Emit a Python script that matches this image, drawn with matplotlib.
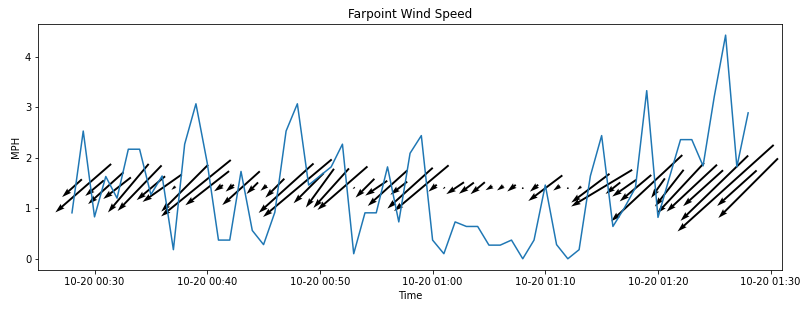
import numpy as np
import pandas as pd
import matplotlib
matplotlib.use("Agg")
import matplotlib.pyplot as plt
import matplotlib.dates as mdates

# --- data ---------------------------------------------------------------
start_time = "2023-10-20 00:28"
n_points = 61
speed_mph = [0.91, 2.53, 0.83, 1.63, 1.20, 2.17, 2.17, 1.27, 1.64, 0.18,
             2.27, 3.07, 1.90, 0.37, 0.37, 1.73, 0.56, 0.28, 0.92, 2.53,
             3.07, 1.46, 1.64, 1.82, 2.27, 0.10, 0.91, 0.91, 1.82, 0.73,
             2.09, 2.44, 0.37, 0.10, 0.73, 0.64, 0.64, 0.27, 0.27, 0.37,
             0.00, 0.37, 1.46, 0.28, 0.00, 0.18, 1.64, 2.44, 0.64, 1.00,
             1.41, 3.33, 0.82, 1.60, 2.36, 2.36, 1.84, 3.22, 4.43, 1.82,
             2.89]
# meteorological direction the wind comes from (degrees)
wind_dir_deg = [48, 49, 50, 48, 52, 40, 44, 50, 55, 50,
                45, 51, 52, 55, 50, 48, 45, 50, 45, 48,
                50, 45, 36, 42, 49, 50, 45, 56, 48, 52,
                48, 50, 50, 50, 56, 53, 50, 60, 55, 52,
                50, 50, 53, 55, 50, 52, 53, 59, 52, 55,
                50, 47, 35, 38, 43, 47, 48, 46, 48, 48,
                45]

times = pd.date_range(start_time, periods=n_points, freq="1min")
spd = np.array(speed_mph)
rad = np.deg2rad(np.array(wind_dir_deg))
u = -spd * np.sin(rad)
v = -spd * np.cos(rad)
arrow_y = np.full(n_points, spd.mean())

# --- figure -------------------------------------------------------------
fig = plt.figure(figsize=(812 / 72, 311 / 72), dpi=72)
ax = fig.add_subplot(111)
fig.subplots_adjust(left=0.047, right=0.963, bottom=0.132, top=0.923)

ax.plot(times, spd, color="#1f77b4", lw=1.5)
ax.quiver(mdates.date2num(times), arrow_y, u, v, pivot="middle",
          angles="uv", scale_units="inches", scale=72 / 29.2,
          width=0.0026, color="black")

ax.xaxis.set_major_locator(mdates.MinuteLocator(byminute=range(0, 60, 10)))
ax.xaxis.set_major_formatter(mdates.DateFormatter("%m-%d %H:%M"))
ax.set_title("Farpoint Wind Speed")
ax.set_xlabel("Time")
ax.set_ylabel("MPH")

fig.savefig("out.png", dpi=72)
